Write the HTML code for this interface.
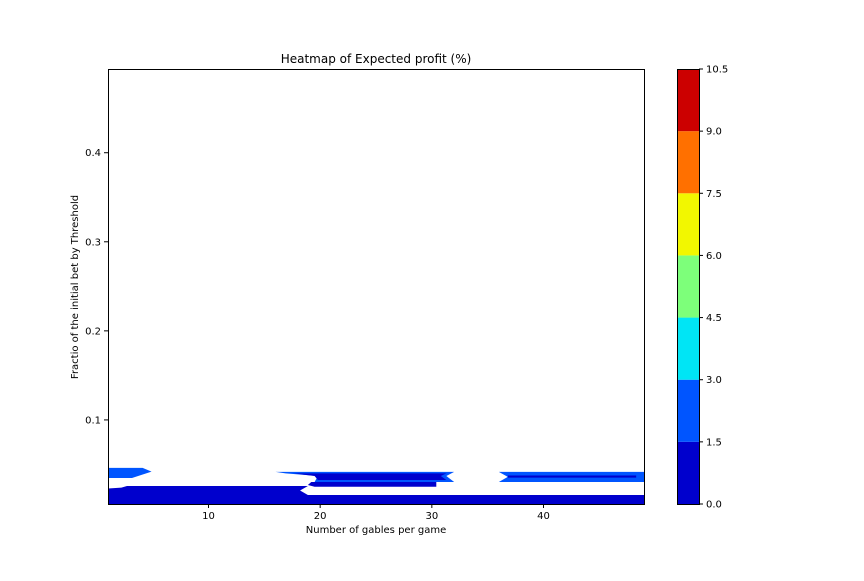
<!DOCTYPE html>
<html><head><meta charset="utf-8"><style>
body{margin:0;background:#fff}
svg text{font-family:"DejaVu Sans","Liberation Sans",sans-serif;fill:#000}
</style></head><body>
<svg id="chart" width="864" height="576" xmlns="http://www.w3.org/2000/svg">
<rect width="864" height="576" fill="#fff"/>
<g id="plot"></g>
<rect x="108.5" y="69.5" width="536" height="435" fill="none" stroke="#000" stroke-width="1"/>
<g id="axes"></g>
<text x="376" y="63" font-size="12" text-anchor="middle">Heatmap of Expected profit (%)</text>
<text x="376" y="533" font-size="10" text-anchor="middle">Number of gables per game</text>
<text transform="translate(78,287) rotate(-90)" font-size="10" text-anchor="middle">Fractio of the initial bet by Threshold</text>
<g id="cbar"></g>
</svg>
<script>
const xTicks=[10,20,30,40];
const yTicks=[0.1,0.2,0.3,0.4];
const levels=[0,1.5,3,4.5,6,7.5,9,10.5];
const levelColors=["#0000cd","#0055ff","#00e5f5","#7dff7a","#f2f700","#ff7000","#cc0000"];
const regionLevels=[1,0,1,0,0,1,0];
const regionPolys=[
 [[1,0.0461],[4.1,0.0461],[4.9,0.0420],[3.15,0.0348],[1,0.0348]],
 [[1,0.0056],[49,0.0056],[49,0.0157],[18.9,0.0157],[18.2,0.0208],[18.9,0.0258],[2.7,0.0258],[2.2,0.0240],[1,0.0230]],
 [[16,0.0416],[32,0.0416],[31.3,0.0371],[32,0.0303],[19.5,0.0303],[19.8,0.0371],[16.9,0.0400]],
 [[17.6,0.0400],[31.3,0.0400],[30.8,0.0371],[31.3,0.0326],[19.8,0.0326],[19.5,0.0371]],
 [[19.2,0.0303],[30.4,0.0303],[30.4,0.0250],[19.5,0.0250],[18.9,0.0270]],
 [[36,0.0416],[49,0.0416],[49,0.0303],[36,0.0303],[36.8,0.0360]],
 [[36.8,0.0376],[48.3,0.0376],[48.3,0.0352],[36.8,0.0352]]
];
const X0=1,X1=49,Y0=0.0056,Y1=0.494;
const px=x=>108+(x-X0)/(X1-X0)*536;
const py=y=>504-(y-Y0)/(Y1-Y0)*435;
const NS="http://www.w3.org/2000/svg";
const plot=document.getElementById('plot');
regionPolys.forEach((poly,i)=>{
  const p=document.createElementNS(NS,'polygon');
  p.setAttribute('points',poly.map(d=>px(d[0])+','+py(d[1])).join(' '));
  p.setAttribute('fill',levelColors[regionLevels[i]]);
  
  
  plot.appendChild(p);
});
const axes=document.getElementById('axes');
xTicks.forEach(t=>{
  const l=document.createElementNS(NS,'line');
  l.setAttribute('x1',px(t));l.setAttribute('x2',px(t));l.setAttribute('y1',504);l.setAttribute('y2',508);l.setAttribute('stroke','#000');
  
  
  axes.appendChild(l);
  const s=document.createElementNS(NS,'text');
  s.setAttribute('x',px(t));s.setAttribute('y',519);s.setAttribute('font-size','10');s.setAttribute('text-anchor','middle');s.textContent=t;
  
  
  axes.appendChild(s);
});
yTicks.forEach(t=>{
  const l=document.createElementNS(NS,'line');
  l.setAttribute('x1',104);l.setAttribute('x2',108);l.setAttribute('y1',py(t));l.setAttribute('y2',py(t));l.setAttribute('stroke','#000');
  
  
  axes.appendChild(l);
  const s=document.createElementNS(NS,'text');
  s.setAttribute('x',101);s.setAttribute('y',py(t)+3.5);s.setAttribute('font-size','10');s.setAttribute('text-anchor','end');s.textContent=t.toFixed(1);
  
  
  axes.appendChild(s);
});
const cb=document.getElementById('cbar');
const cy=v=>504-(v-levels[0])/(levels[levels.length-1]-levels[0])*435;
levelColors.forEach((c,i)=>{
  const r=document.createElementNS(NS,'rect');
  r.setAttribute('x',677);r.setAttribute('width',22);r.setAttribute('y',cy(levels[i+1]));r.setAttribute('height',cy(levels[i])-cy(levels[i+1]));r.setAttribute('fill',c);
  
  
  cb.appendChild(r);
});
levels.forEach(v=>{
  const l=document.createElementNS(NS,'line');
  l.setAttribute('x1',699);l.setAttribute('x2',703);l.setAttribute('y1',cy(v));l.setAttribute('y2',cy(v));l.setAttribute('stroke','#000');
  
  
  cb.appendChild(l);
  const s=document.createElementNS(NS,'text');
  s.setAttribute('x',706);s.setAttribute('y',cy(v)+3.5);s.setAttribute('font-size','10');s.textContent=v.toFixed(1);
  
  
  cb.appendChild(s);
});
const f=document.createElementNS(NS,'rect');
f.setAttribute('x',677.5);f.setAttribute('y',69.5);f.setAttribute('width',22);f.setAttribute('height',435);f.setAttribute('fill','none');f.setAttribute('stroke','#000');


cb.appendChild(f);
</script>
</body></html>
